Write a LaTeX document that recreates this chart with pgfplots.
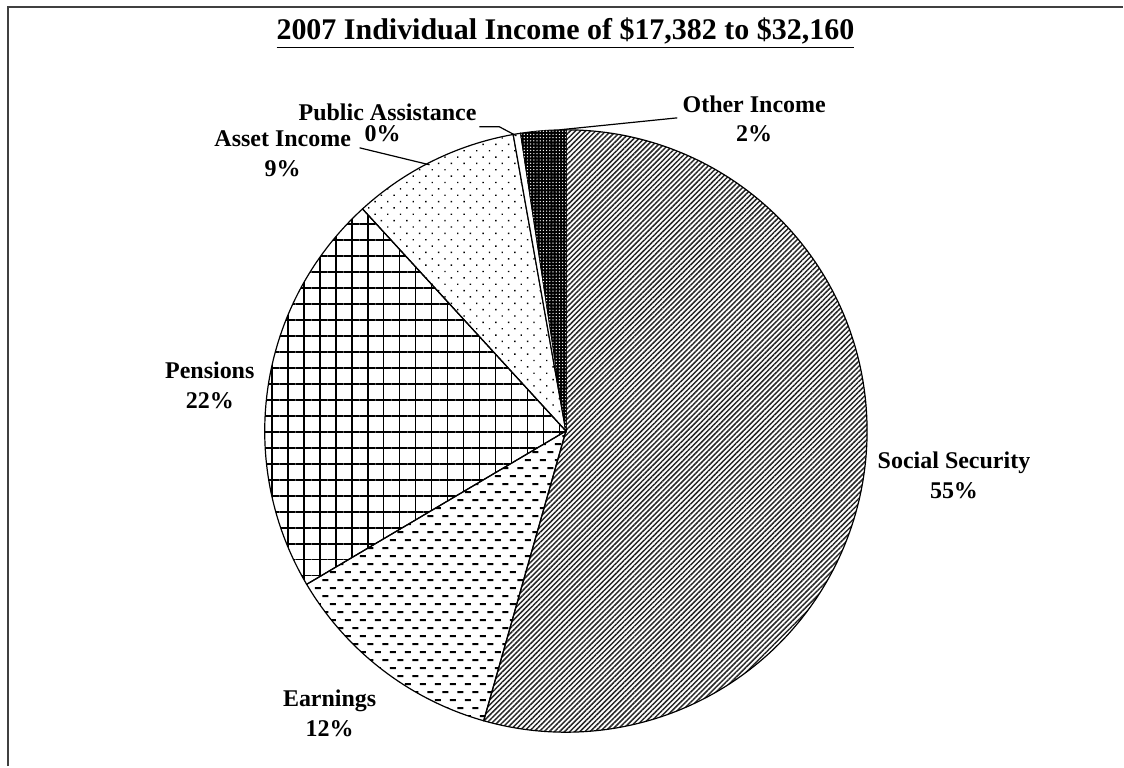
\documentclass[border=0pt]{standalone}
\usepackage{fontspec}
\setmainfont{Liberation Serif}
\usepackage{pgfplots}
\usepackage{pgfplotstable}
\pgfplotsset{compat=1.18}
\usetikzlibrary{patterns,patterns.meta}

% staggered horizontal dashes (Earnings)
\pgfdeclarepattern{
  name=hdash,
  bottom left={\pgfpoint{0pt}{0pt}},
  top right={\pgfpoint{7.5pt}{8pt}},
  tile size={\pgfpoint{7.5pt}{8pt}},
  code={
    \pgfsetlinewidth{1pt}
    \pgfpathmoveto{\pgfpoint{0.5pt}{2pt}}\pgfpathlineto{\pgfpoint{3.5pt}{2pt}}
    \pgfpathmoveto{\pgfpoint{4.25pt}{6pt}}\pgfpathlineto{\pgfpoint{7.25pt}{6pt}}
    \pgfusepath{stroke}
  }
}

% shares of income, clockwise from 12 o'clock
\pgfplotstableread{
label value
SocialSecurity 54.4
Earnings 12.1
Pensions 21.7
AssetIncome 9.0
PublicAssistance 0.4
OtherIncome 2.4
}\pietable

\def\cumsum{0}
\foreach \i in {0,...,5}{%
  \pgfplotstablegetelem{\i}{value}\of\pietable
  \pgfmathsetmacro\a{90-3.6*\cumsum}%
  \pgfmathsetmacro\newcum{\cumsum+\pgfplotsretval}%
  \pgfmathsetmacro\b{90-3.6*\newcum}%
  \expandafter\xdef\csname pieA\i\endcsname{\a}%
  \expandafter\xdef\csname pieB\i\endcsname{\b}%
  \xdef\cumsum{\newcum}%
}

\def\cx{566.5}
\def\cy{335.5}
\def\rad{150.75pt}
\newcommand\slice[2]{%
  \draw[line width=0.6pt, #2] (axis cs:\cx,\cy) -- ++(\csname pieA#1\endcsname:\rad)
    arc[start angle=\csname pieA#1\endcsname, end angle=\csname pieB#1\endcsname, radius=\rad] -- cycle;}

\begin{document}
\begin{tikzpicture}
\begin{axis}[
  x=0.5pt, y=0.5pt,
  xmin=0, xmax=1124, ymin=0, ymax=767,
  hide axis, clip=false,
]
  \path (axis cs:0,0) rectangle (axis cs:1124,767);
  % frame (cut at right and bottom)
  \draw[line width=1.2pt, black!75] (axis cs:8,0) -- (axis cs:8,760) -- (axis cs:1124,760);

  \slice{0}{pattern={Lines[angle=45, distance=1.8pt, line width=0.75pt]}, pattern color=black!85}
  \slice{1}{pattern=hdash}
  \slice{2}{pattern={Hatch[angle=0, distance=8pt, line width=0.9pt]}}
  \slice{3}{pattern={Dots[angle=45, distance=4.5pt, radius=0.5pt]}}
  \slice{4}{fill=white}
  \slice{5}{fill=black, postaction={pattern={Dots[distance=1.6pt, radius=0.35pt]}, pattern color=white}}

  % leader lines
  \draw[line width=0.6pt] (axis cs:360,619) -- (axis cs:430,602);
  \draw[line width=0.6pt] (axis cs:480,640) -- (axis cs:500,640) -- (axis cs:517,631);
  \draw[line width=0.6pt] (axis cs:560,637) -- (axis cs:678,649);

  \begin{scope}[every node/.style={align=center, font=\bfseries\fontsize{12}{15}\selectfont}]
    \node at (axis cs:566,734) {\fontsize{15}{17}\selectfont\underline{2007 Individual Income of \$17,382 to \$32,160}};
    \node at (axis cs:955,291) {Social Security\\55\%};
    \node at (axis cs:330,53) {Earnings\\12\%};
    \node at (axis cs:210,381) {Pensions\\22\%};
    \node at (axis cs:283,613) {Asset Income\\9\%};
    \node at (axis cs:388,655) {Public Assistance};
    \node at (axis cs:383,633) {0\%};
    \node at (axis cs:755,648) {Other Income\\2\%};
  \end{scope}
\end{axis}
\end{tikzpicture}
\end{document}
